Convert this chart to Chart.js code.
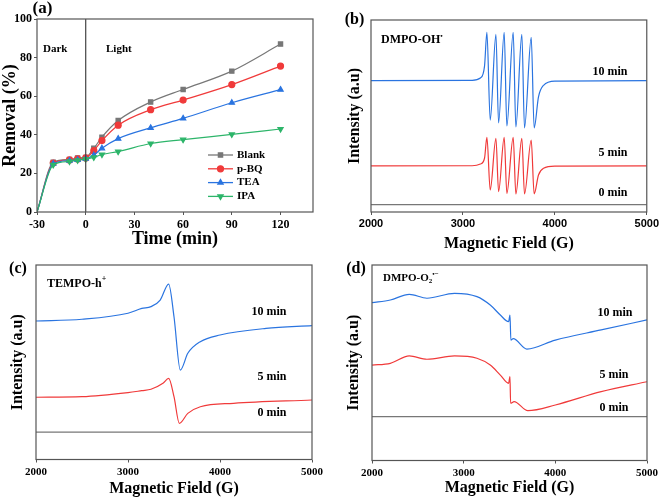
<!DOCTYPE html>
<html lang="en">
<head>
<meta charset="UTF-8">
<script src="https://cdn.jsdelivr.net/npm/chart.js@4.4.0/dist/chart.umd.min.js"></script>
<title>Removal and EPR</title>
<style>
  body { margin: 0; background: #fff; width: 661px; height: 499px; position: relative; overflow: hidden; }
  canvas { position: absolute; }
</style>
</head>
<body>
<canvas id="ca" width="330" height="250" style="left:0;top:0"></canvas>
<canvas id="cb" width="331" height="260" style="left:330px;top:0"></canvas>
<canvas id="cc" width="330" height="249" style="left:0;top:250px"></canvas>
<canvas id="cd" width="331" height="249" style="left:330px;top:250px"></canvas>
<script>
// (a) removal vs time
const timeA = [-30, -20, -10, -5, 0, 5, 10, 20, 40, 60, 90, 120];
const blank = [0, 25.8, 27.2, 28, 28.3, 33, 38.8, 47.4, 57, 63.5, 73, 87];
const pbq   = [0, 25.4, 27, 27.5, 28, 31.8, 37, 45, 53, 58, 66, 75.6];
const tea   = [0, 25, 26.6, 27, 27.6, 29.4, 33, 38, 43.6, 48.5, 56.6, 63.4];
const ipa   = [0, 24.4, 26.2, 26.8, 27.4, 28.3, 29.8, 31.3, 35.5, 37.5, 40.2, 43];
const xTicksA = [-30, 0, 30, 60, 90, 120];

// (b) DMPO-OH
const b10x = [2000, 3100, 3190, 3235, 3261, 3297, 3359, 3388, 3449, 3478, 3547, 3576, 3641, 3670, 3743, 3775, 3822, 3877, 4000, 5000];
const b10y = [68.4, 68.6, 69.8, 76, 93.6, 47.9, 92.5, 46.4, 93.6, 44.8, 93.6, 44.3, 92.5, 43.8, 91, 43.8, 60, 66, 68.2, 68.4];
const b5y  = [24, 24.1, 25, 28, 38.9, 11.5, 38.4, 10.6, 38.9, 9.7, 38.9, 9.4, 38.4, 9.4, 37.5, 9.4, 19.3, 22.8, 23.9, 24];
const b0y  = [3.8, 3.8];

// (c) TEMPO-h+
const c10x = [2000, 2500, 3000, 3150, 3250, 3350, 3442, 3500, 3569, 3650, 3786, 4000, 4500, 5000];
const c10y = [71.2, 72.1, 75.2, 77.7, 78.6, 82, 90.2, 73.4, 46, 54.6, 60.6, 64, 67.4, 68.8];
const c5x  = [2000, 2500, 3000, 3150, 3250, 3380, 3442, 3500, 3558, 3650, 3786, 4148, 5000];
const c5y  = [32, 32.3, 34.4, 35.4, 36.1, 39.2, 41.7, 32.3, 18.6, 23.7, 27.1, 28.9, 30.6];
const c0y  = [14.1, 14.1];

// (d) DMPO-O2
const d10x = [2000, 2200, 2407, 2600, 2900, 3145, 3290, 3400, 3490, 3505, 3515, 3540, 3690, 4000, 4500, 5000];
const d10y = [80.7, 82.1, 85, 83, 85.5, 83.8, 79.5, 74.4, 71, 74.4, 61.6, 62.3, 57, 61.6, 66.8, 71.9];
const d5x  = [2000, 2200, 2407, 2600, 2900, 3145, 3290, 3400, 3490, 3505, 3512, 3550, 3700, 4000, 4500, 5000];
const d5y  = [48.8, 49.7, 53.5, 51.8, 53.5, 52.3, 48.8, 43.7, 39.5, 42.9, 29.3, 30.1, 25.5, 28.4, 35.2, 40.3];
const d0y  = [22.4, 22.4];
const fieldEnds = [2000, 5000];

const serif = "'Liberation Serif', 'Times New Roman', serif";
const sans = "'Liberation Sans', Arial, sans-serif";
const axisCol = '#555';
const gray = '#777', red = '#f03a3a', blue = '#2a74e0', green = '#2db56a';

function pts(xs, ys) { return xs.map((x, i) => ({ x: x, y: ys[i] })); }

// draws a run of text pieces, some raised or lowered
function richText(ctx, parts, x, y) {
  parts.forEach(p => {
    ctx.font = 'bold ' + p.size + 'px ' + serif;
    ctx.fillText(p.s, x, y + (p.dy || 0));
    x += ctx.measureText(p.s).width;
  });
}

const frame = {
  id: 'frame',
  afterDatasetsDraw(chart, args, opts) {
    const ctx = chart.ctx, a = chart.chartArea;
    ctx.save();
    if (opts.zeroLine) {
      const px = chart.scales.x.getPixelForValue(0);
      ctx.strokeStyle = '#444'; ctx.lineWidth = 1.2;
      ctx.beginPath(); ctx.moveTo(px, a.top); ctx.lineTo(px, a.bottom); ctx.stroke();
    }
    ctx.strokeStyle = axisCol; ctx.lineWidth = 1.2;
    ctx.strokeRect(a.left, a.top, a.right - a.left, a.bottom - a.top);
    ctx.fillStyle = '#000';
    ctx.textBaseline = 'middle';
    (opts.texts || []).forEach(t => {
      ctx.font = 'bold ' + t.size + 'px ' + serif;
      ctx.textAlign = t.align || 'left';
      ctx.fillText(t.s, t.x, t.y);
    });
    ctx.textAlign = 'left';
    if (opts.rich) richText(ctx, opts.rich.parts, opts.rich.x, opts.rich.y);
    if (opts.legend) {
      opts.legend.forEach((l, i) => {
        const y = 155 + i * 13.8;
        ctx.strokeStyle = l.color; ctx.lineWidth = 1.3;
        ctx.beginPath(); ctx.moveTo(208, y); ctx.lineTo(233, y); ctx.stroke();
        ctx.fillStyle = l.color;
        Chart.helpers.drawPoint(ctx, { pointStyle: l.style, radius: 3, rotation: l.rot || 0, borderWidth: 1 }, 220.5, y);
        ctx.fillStyle = '#000';
        ctx.font = 'bold 11px ' + serif;
        ctx.fillText(l.label, 237, y);
      });
    }
    ctx.restore();
  }
};

function lineSet(data, color, extra) {
  return Object.assign({
    data: data, borderColor: color, backgroundColor: color,
    borderWidth: 1.2, pointRadius: 0, cubicInterpolationMode: 'monotone'
  }, extra || {});
}

const plainTick = v => String(v);

// panel (a)
const markerSize = ctx => ctx.dataIndex === 0 ? 0 : 3;
new Chart('ca', {
  type: 'line',
  data: {
    datasets: [
      lineSet(pts(timeA, blank), gray, { pointStyle: 'rect', pointRadius: markerSize, order: 4 }),
      lineSet(pts(timeA, pbq), red, { pointStyle: 'circle', pointRadius: markerSize, order: 3 }),
      lineSet(pts(timeA, tea), blue, { pointStyle: 'triangle', pointRadius: markerSize, order: 2 }),
      lineSet(pts(timeA, ipa), green, { pointStyle: 'triangle', pointRotation: 180, pointRadius: markerSize, order: 1 })
    ]
  },
  options: {
    responsive: false, animation: false,
    layout: { padding: { top: 19, right: 17 } },
    plugins: {
      legend: { display: false }, tooltip: { enabled: false },
      frame: {
        zeroLine: true,
        texts: [
          { s: '(a)', x: 42.5, y: 8.5, size: 17, align: 'center' },
          { s: 'Dark', x: 43, y: 49, size: 11 },
          { s: 'Light', x: 106, y: 49, size: 11 }
        ],
        legend: [
          { label: 'Blank', color: gray, style: 'rect' },
          { label: 'p-BQ', color: red, style: 'circle' },
          { label: 'TEA', color: blue, style: 'triangle' },
          { label: 'IPA', color: green, style: 'triangle', rot: 180 }
        ]
      }
    },
    scales: {
      x: {
        type: 'linear', min: -30, max: 140,
        afterBuildTicks: s => { s.ticks = xTicksA.map(v => ({ value: v })); },
        afterFit: s => { s.height = 38; },
        border: { display: false },
        grid: { drawOnChartArea: false, tickLength: 3, color: axisCol },
        ticks: { padding: 3, color: '#000', callback: plainTick, font: { family: serif, weight: 'bold', size: 12 } },
        title: { display: true, text: 'Time (min)', color: '#000', padding: 0, font: { family: serif, weight: 'bold', size: 18 } }
      },
      y: {
        min: 0, max: 100,
        ticks: { stepSize: 20, padding: 2, color: '#000', callback: plainTick, font: { family: serif, weight: 'bold', size: 12 } },
        afterFit: s => { s.width = 37; },
        border: { display: false },
        grid: { drawOnChartArea: false, tickLength: 3, color: axisCol },
        title: { display: true, text: 'Removal (%)', color: '#000', padding: 0, font: { family: serif, weight: 'bold', size: 18 } }
      }
    }
  },
  plugins: [frame]
});

// panels (b), (c), (d)
function spectrum(id, sets, cfg) {
  new Chart(id, {
    type: 'line',
    data: { datasets: sets },
    options: {
      responsive: false, animation: false,
      layout: { padding: { top: cfg.top, right: cfg.right } },
      plugins: {
        legend: { display: false }, tooltip: { enabled: false },
        frame: { texts: cfg.texts, rich: cfg.rich }
      },
      scales: {
        x: {
          type: 'linear', min: 2000, max: 5000,
          afterFit: s => { s.height = cfg.xh; },
          border: { display: false },
          grid: { drawOnChartArea: false, tickLength: 3, color: axisCol },
          ticks: { stepSize: 1000, padding: cfg.tickPad, color: '#000', callback: plainTick, font: { family: cfg.tickFont, weight: 'bold', size: 11 } },
          title: { display: true, text: 'Magnetic Field (G)', color: '#000', padding: { top: 0, bottom: cfg.xtPad }, font: { family: serif, weight: 'bold', size: 16 } }
        },
        y: {
          min: 0, max: 100,
          afterFit: s => { s.width = cfg.yw; },
          border: { display: false },
          grid: { display: false },
          ticks: { display: false },
          title: { display: true, text: 'Intensity (a.u)', color: '#000', padding: { top: cfg.ytPad, bottom: 0 }, font: { family: serif, weight: 'bold', size: 16 } }
        }
      }
    },
    plugins: [frame]
  });
}

spectrum('cb', [
  lineSet(pts(fieldEnds, b0y), gray),
  lineSet(pts(b10x, b5y), red),
  lineSet(pts(b10x, b10y), blue)
], {
  top: 20, right: 14, xh: 48, yw: 41, tickPad: 2, xtPad: 7, ytPad: 15, tickFont: sans,
  texts: [
    { s: '(b)', x: 24.5, y: 19.5, size: 16, align: 'center' },
    { s: '10 min', x: 280, y: 72, size: 12, align: 'center' },
    { s: '5 min', x: 283, y: 153, size: 12, align: 'center' },
    { s: '0 min', x: 283, y: 193, size: 12, align: 'center' }
  ],
  rich: { x: 51, y: 40, parts: [{ s: 'DMPO-OH', size: 12 }, { s: '\u2022', size: 7, dy: -4 }] }
});

spectrum('cc', [
  lineSet(pts(fieldEnds, c0y), gray),
  lineSet(pts(c5x, c5y), red),
  lineSet(pts(c10x, c10y), blue)
], {
  top: 15, right: 18, xh: 39.5, yw: 36, tickPad: 3, xtPad: 1, ytPad: 8, tickFont: serif,
  texts: [
    { s: '(c)', x: 18, y: 18.5, size: 16, align: 'center' },
    { s: '10 min', x: 269, y: 62, size: 12, align: 'center' },
    { s: '5 min', x: 272, y: 127, size: 12, align: 'center' },
    { s: '0 min', x: 272, y: 163, size: 12, align: 'center' }
  ],
  rich: { x: 47, y: 34, parts: [{ s: 'TEMPO-h', size: 12 }, { s: '+', size: 8, dy: -5 }] }
});

spectrum('cd', [
  lineSet(pts(fieldEnds, d0y), gray),
  lineSet(pts(d5x, d5y), red),
  lineSet(pts(d10x, d10y), blue)
], {
  top: 15, right: 14, xh: 38.5, yw: 42, tickPad: 3, xtPad: 2, ytPad: 14, tickFont: serif,
  texts: [
    { s: '(d)', x: 26, y: 19, size: 16, align: 'center' },
    { s: '10 min', x: 285, y: 62.5, size: 12, align: 'center' },
    { s: '5 min', x: 284, y: 125, size: 12, align: 'center' },
    { s: '0 min', x: 284, y: 158, size: 12, align: 'center' }
  ],
  rich: { x: 53, y: 28, parts: [{ s: 'DMPO-O', size: 11 }, { s: '2', size: 7, dy: 3 }, { s: '\u2022\u2212', size: 7, dy: -4 }] }
});
</script>
</body>
</html>
